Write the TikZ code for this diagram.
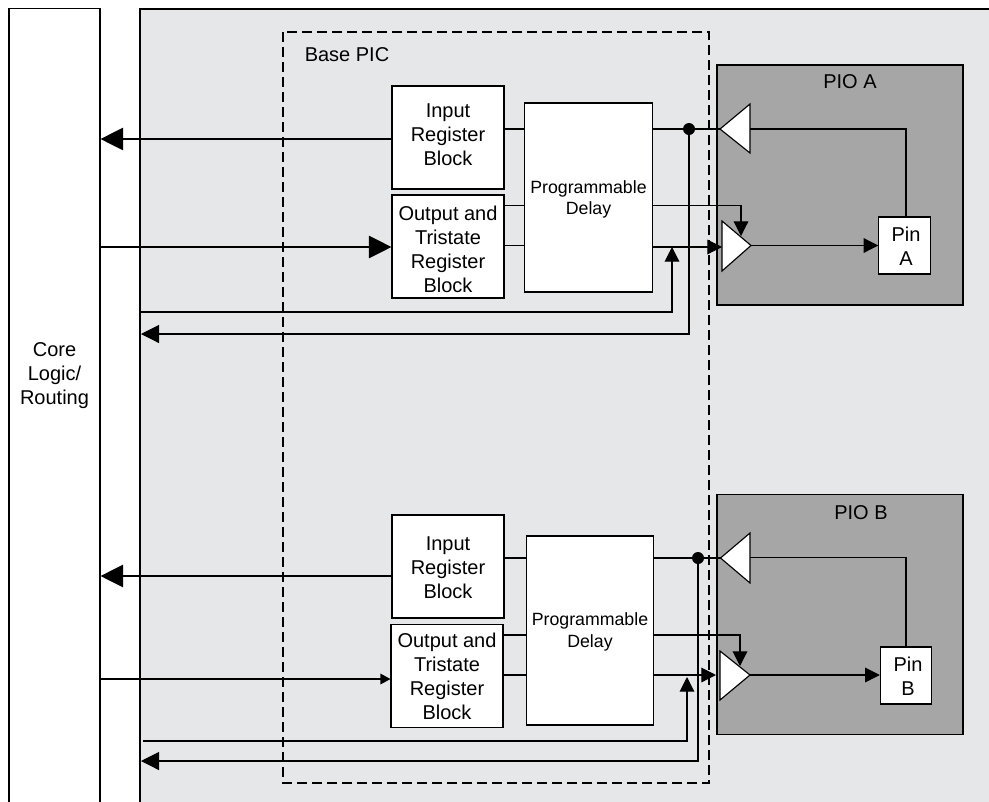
\documentclass[tikz,border=0pt]{standalone}
\usepackage{fontspec}
\setmainfont{Liberation Sans}
\usetikzlibrary{arrows.meta}
\definecolor{fabricgray}{HTML}{E6E7E8}
\definecolor{piogray}{HTML}{A6A6A6}

\begin{document}
\begin{tikzpicture}[x=0.75pt,y=-0.75pt,line width=0.85pt,
	regbox/.style={draw,fill=white,inner sep=0pt,minimum width=84pt,minimum height=77.25pt},
	delaybox/.style={draw,fill=white,inner sep=0pt,minimum width=95.5pt,minimum height=141.75pt},
	pinbox/.style={draw,fill=white,inner sep=0pt,minimum width=38.5pt,minimum height=42.75pt},
	piobox/.style={draw,fill=piogray,inner sep=0pt,minimum width=184.5pt,minimum height=180pt},
	label/.style={inner sep=0pt,align=center,font=\fontsize{15}{18}\selectfont},
	smalllabel/.style={inner sep=0pt,align=center,font=\fontsize{13.3}{16}\selectfont},
	buffer/.style={draw,fill=white,line join=miter},
	bighead/.style={-{Triangle[length=17pt,width=17pt]}},
	lowhead/.style={-{Triangle[length=11pt,width=11pt]}},
	tinyhead/.style={-{Triangle[length=7.5pt,width=8pt]}},
	dot/.style={circle,fill=black,inner sep=0pt,minimum size=9pt}]
\useasboundingbox (0,0) rectangle (989,801);
\clip (0,0) rectangle (989,801);
%================================================================
%	Background
\fill[fabricgray] (140,9) rectangle (995,810);
\draw[line width=1.3pt] (140,810) -- (140,9) -- (995,9);
\node[draw,minimum width=68.25pt,minimum height=614pt,inner sep=0pt] (core) at (54.5,418) {};
\node[label] (coretext) at (54.5,376) {Core\\Logic/\\Routing};
%----------------------------------------------------------------
\draw[line width=0.85pt,dash pattern=on 7.5pt off 3.75pt] (283,32) rectangle (709,783);
\node[label] (basepic) at (347,55) {Base PIC};
%================================================================
%	Upper half
\node[regbox] (inA) at (448,137.5) {};
\node[label] (inAtext) at (448,135) {Input\\Register\\Block};
\node[regbox] (outA) at (448,246.5) {};
\node[label] (outAtext) at (448,249.5) {Output and\\Tristate\\Register\\Block};
\node[delaybox] (delayA) at (588.5,197.5) {};
\node[smalllabel] (delayAtext) at (588.5,199.5) {Programmable\\Delay};
\node[piobox] (pioA) at (840,185) {};
\node[label] (pioAtext) at (850,81.5) {PIO A};
\node[pinbox] (pinA) at (904.5,245.5) {};
\node[label] (pinAtext) at (906,246.5) {Pin\\A};
%----------------------------------------------------------------
\coordinate (dotApos) at (689,129);
\coordinate (txAtip) at (720,129);
\coordinate (txAbase) at (750,129);
\coordinate (pinAtop) at (906,217);
\coordinate (rxAtip) at (751,245.5);
\coordinate (rxAbase) at (722,247);
\coordinate (enAtip) at (741,236);
\coordinate (backAstart) at (139,312);
\coordinate (backA) at (672,312);
\coordinate (retA) at (689,334);
\coordinate (retAend) at (141,334);
\draw[buffer] (720,129) -- (750,104) -- (750,153) -- cycle;
\draw[buffer] (722,221) -- (722,271) -- (751,245.5) -- cycle;
%----------------------------------------------------------------
\draw[bighead] (inA.west |- 0,139) -- (core.east |- 0,139);
\draw[bighead] (core.east |- 0,247) -- (outA.west |- 0,247);
\draw (inA.east |- dotApos) -- (delayA.west |- dotApos);
\draw (outA.east |- 0,205.5) -- (delayA.west |- 0,205.5);
\draw (outA.east |- 0,245.5) -- (delayA.west |- 0,245.5);
\draw (delayA.east |- dotApos) -- (txAtip);
\draw (txAbase) -| (pinAtop);
\draw[lowhead] (rxAtip) -- (pinA.west |- rxAtip);
\draw[lowhead] (delayA.east |- 0,205.5) -| (enAtip);
\draw[lowhead] (delayA.east |- rxAbase) -- (rxAbase);
\draw[lowhead] (backAstart) -- (backA) -- (backA |- rxAbase);
\draw[-{Triangle[length=13.5pt,width=13.5pt]}] (dotApos) -- (retA) -- (retAend);
\node[dot] (dotA) at (dotApos) {};
%================================================================
%	Lower half
\node[regbox] (inB) at (448,566.5) {};
\node[label] (inBtext) at (448,567.5) {Input\\Register\\Block};
\node[regbox] (outB) at (447,676) {};
\node[label] (outBtext) at (447,676.5) {Output and\\Tristate\\Register\\Block};
\node[delaybox] (delayB) at (590,630.5) {};
\node[smalllabel] (delayBtext) at (590,632) {Programmable\\Delay};
\node[piobox] (pioB) at (840,614.5) {};
\node[label] (pioBtext) at (861,513) {PIO B};
\node[pinbox] (pinB) at (906,675.5) {};
\node[label] (pinBtext) at (908,676.5) {Pin\\B};
%----------------------------------------------------------------
\coordinate (dotBpos) at (698,558);
\coordinate (txBtip) at (720.5,558);
\coordinate (txBbase) at (750,557.5);
\coordinate (rxBtip) at (750,675);
\coordinate (rxBbase) at (716,675);
\coordinate (enBtip) at (740,666);
\coordinate (backBstart) at (143,741);
\coordinate (backB) at (687,741);
\coordinate (retB) at (698,761);
\coordinate (retBend) at (141,761);
\draw[buffer] (720.5,558) -- (750,533) -- (750,583) -- cycle;
\draw[buffer] (720,651) -- (720,700) -- (750,675) -- cycle;
%----------------------------------------------------------------
\draw[bighead] (inB.west |- 0,576) -- (core.east |- 0,576);
\draw[tinyhead] (core.east |- 0,679) -- (outB.west |- 0,679);
\draw (inB.east |- dotBpos) -- (delayB.west |- dotBpos);
\draw (outB.east |- 0,635) -- (delayB.west |- 0,635);
\draw (outB.east |- 0,675) -- (delayB.west |- 0,675);
\draw (delayB.east |- dotBpos) -- (txBtip);
\draw (txBbase) -| (pinB.north);
\draw[lowhead] (rxBtip) -- (pinB.west |- rxBtip);
\draw[lowhead] (delayB.east |- 0,635) -| (enBtip);
\draw[lowhead] (delayB.east |- rxBbase) -- (rxBbase);
\draw[lowhead] (backBstart) -- (backB) -- (backB |- 0,677);
\draw[-{Triangle[length=13.5pt,width=13.5pt]}] (dotBpos) -- (retB) -- (retBend);
\node[dot] (dotB) at (dotBpos) {};
%================================================================
\end{tikzpicture}
\end{document}
